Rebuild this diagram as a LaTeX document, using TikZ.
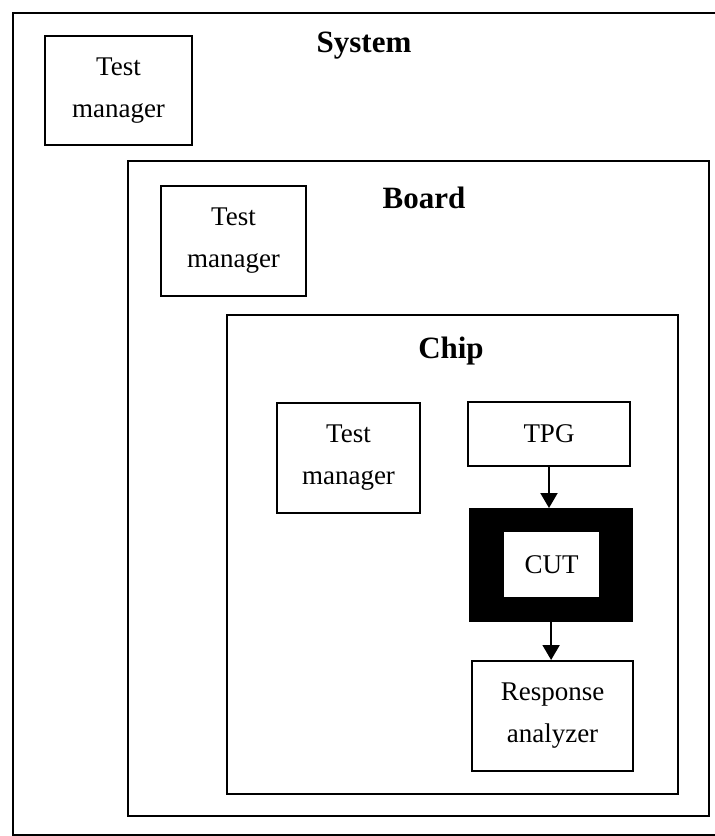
\documentclass[tikz,border=0pt]{standalone}
\usepackage{fontspec}
\setmainfont{Liberation Serif}
\usetikzlibrary{arrows.meta}
\begin{document}
\begin{tikzpicture}[x=1pt,y=-1pt,
  frame/.style={draw, line width=2.2pt, inner sep=0pt, anchor=north west},
  unit/.style={draw, line width=2pt, align=center, inner sep=0pt, anchor=north west,
    font=\fontsize{27}{42}\selectfont},
  level/.style={font=\fontsize{31}{36}\selectfont\bfseries},
  flow/.style={line width=2pt, -{Triangle[width=17pt,length=15pt]}}]
\useasboundingbox (0,0) rectangle (715,836);
\clip (0,0) rectangle (715,836);
\fill[white] (0,0) rectangle (715,836);

% nested levels of the test hierarchy
\node[frame, minimum width=730pt, minimum height=822pt] (system) at (12,12) {};
\node[frame, minimum width=581pt, minimum height=655pt] (board) at (127,160) {};
\node[frame, minimum width=451pt, minimum height=479pt] (chip) at (226,314) {};

\node[level] (systemlabel) at (364,46) {System};
\node[level] (boardlabel) at (424,198) {Board};
\node[level] (chiplabel) at (451,351) {Chip};

% test managers
\node[unit, minimum width=147pt, minimum height=109pt] (tmsys) at (44,35) {Test\\manager};
\node[unit, minimum width=145pt, minimum height=110pt] (tmboard) at (160,185) {Test\\manager};
\node[unit, minimum width=143pt, minimum height=110pt] (tmchip) at (276,402) {Test\\manager};

% BIST data path
\node[unit, minimum width=162pt, minimum height=64pt] (tpg) at (467,401) {TPG};
\node[frame, fill=black, minimum width=162pt, minimum height=112pt] (cutframe) at (469,508) {};
\node[unit, draw=none, fill=white, minimum width=95pt, minimum height=65pt] (cut) at (503,531) {CUT};
\node[unit, minimum width=161pt, minimum height=110pt] (ra) at (471,660) {Response\\analyzer};

\draw[flow] (tpg.south) -- (tpg.south |- cutframe.north);
\draw[flow] (cutframe.south) -- (cutframe.south |- ra.north);
\end{tikzpicture}
\end{document}
